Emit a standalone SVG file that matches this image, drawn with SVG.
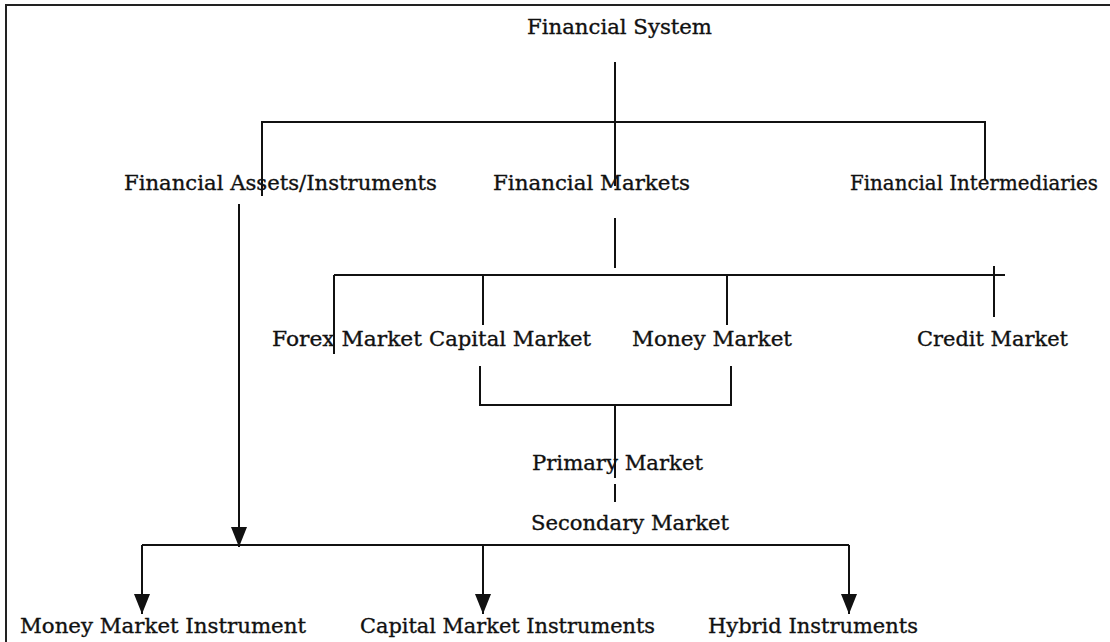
<svg xmlns="http://www.w3.org/2000/svg" width="1110" height="642" viewBox="0 0 1110 642">
<style>
text{font-family:"DejaVu Serif","Liberation Serif",serif;font-size:21px;fill:#111;stroke:#111;stroke-width:0.35;}
.ln{stroke:#111;stroke-width:2;fill:none;}
</style>
<defs>
<marker id="ah" markerUnits="userSpaceOnUse" markerWidth="20" markerHeight="22" viewBox="0 0 20 22" refX="20" refY="10" orient="auto">
<path d="M0,2 L20,10 L0,18 Z" fill="#111"/>
</marker>
</defs>
<rect x="0" y="0" width="1110" height="642" fill="#fff"/>
<rect x="6" y="5" width="1120" height="660" fill="none" stroke="#222" stroke-width="2"/>
<g id="connectors">
<line class="ln" x1="615" y1="62" x2="615" y2="186"/>
<polyline class="ln" points="262,196 262,122 985,122 985,180"/>
<line class="ln" x1="239" y1="204" x2="239" y2="547" marker-end="url(#ah)"/>
<line class="ln" x1="615" y1="218" x2="615" y2="268"/>
<line class="ln" x1="334" y1="275" x2="1005" y2="275"/>
<line class="ln" x1="334" y1="275" x2="334" y2="354"/>
<line class="ln" x1="483" y1="275" x2="483" y2="325"/>
<line class="ln" x1="727" y1="275" x2="727" y2="325"/>
<line class="ln" x1="994" y1="266" x2="994" y2="317"/>
<polyline class="ln" points="480,366 480,405 731,405 731,366"/>
<line class="ln" x1="615" y1="405" x2="615" y2="478"/>
<line class="ln" x1="615" y1="484" x2="615" y2="502"/>
<line class="ln" x1="142" y1="545" x2="849" y2="545"/>
<line class="ln" x1="142" y1="545" x2="142" y2="614" marker-end="url(#ah)"/>
<line class="ln" x1="483" y1="545" x2="483" y2="614" marker-end="url(#ah)"/>
<line class="ln" x1="849" y1="545" x2="849" y2="614" marker-end="url(#ah)"/>
</g>
<g id="financial-system"><text x="527" y="34" textLength="185" lengthAdjust="spacingAndGlyphs">Financial System</text></g>
<g id="financial-assets"><text x="124" y="190" textLength="313" lengthAdjust="spacingAndGlyphs">Financial Assets/Instruments</text></g>
<g id="financial-markets"><text x="493" y="190" textLength="197" lengthAdjust="spacingAndGlyphs">Financial Markets</text></g>
<g id="financial-intermediaries"><text x="850" y="190" textLength="248" lengthAdjust="spacingAndGlyphs">Financial Intermediaries</text></g>
<g id="forex-market"><text x="272" y="346" textLength="150" lengthAdjust="spacingAndGlyphs">Forex Market</text></g>
<g id="capital-market"><text x="429" y="346" textLength="162" lengthAdjust="spacingAndGlyphs">Capital Market</text></g>
<g id="money-market"><text x="632" y="346" textLength="160" lengthAdjust="spacingAndGlyphs">Money Market</text></g>
<g id="credit-market"><text x="917" y="346" textLength="151" lengthAdjust="spacingAndGlyphs">Credit Market</text></g>
<g id="primary-market"><text x="532" y="470" textLength="171" lengthAdjust="spacingAndGlyphs">Primary Market</text></g>
<g id="secondary-market"><text x="531" y="530" textLength="198" lengthAdjust="spacingAndGlyphs">Secondary Market</text></g>
<g id="money-market-instrument"><text x="20" y="633" textLength="286" lengthAdjust="spacingAndGlyphs">Money Market Instrument</text></g>
<g id="capital-market-instruments"><text x="360" y="633" textLength="295" lengthAdjust="spacingAndGlyphs">Capital Market Instruments</text></g>
<g id="hybrid-instruments"><text x="708" y="633" textLength="210" lengthAdjust="spacingAndGlyphs">Hybrid Instruments</text></g>
</svg>
